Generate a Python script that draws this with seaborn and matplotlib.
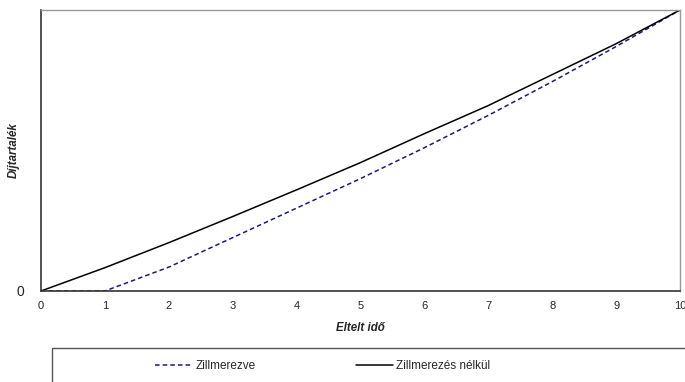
import matplotlib
matplotlib.use("Agg")
import matplotlib.pyplot as plt
from matplotlib.patches import Rectangle
import seaborn as sns
import pandas as pd

# Policy year and reserve (fraction of final reserve)
years = [0, 1, 2, 3, 4, 5, 6, 7, 8, 9, 10]
zillmerezve = [0.0, 0.0, 0.085, 0.19, 0.295, 0.40, 0.51, 0.625, 0.745, 0.87, 1.0]
zillmerezes_nelkul = [0.0, 0.083, 0.172, 0.265, 0.36, 0.457, 0.56, 0.66, 0.77, 0.88, 1.0]
series_names = ["Zillmerezve", "Zillmerezés nélkül"]
x_ticks = list(range(0, 11))
y_ticks = [0]

df = pd.concat([
    pd.DataFrame({"Eltelt idő": years, "Díjtartalék": zillmerezve, "sorozat": series_names[0]}),
    pd.DataFrame({"Eltelt idő": years, "Díjtartalék": zillmerezes_nelkul, "sorozat": series_names[1]}),
])

sns.set_theme(style="white")
plt.rcParams["font.family"] = ["Liberation Sans", "DejaVu Sans"]

fig = plt.figure(figsize=(6.85, 3.82), dpi=100)
ax = fig.add_axes([41 / 685, 1 - 291 / 382, (680 - 41) / 685, (291 - 10) / 382])

sns.lineplot(
    data=df, x="Eltelt idő", y="Díjtartalék", hue="sorozat", style="sorozat",
    palette={series_names[0]: "#1a1a80", series_names[1]: "#000000"},
    dashes={series_names[0]: (3, 2), series_names[1]: ""},
    linewidth=1.1, ax=ax, legend=True,
)
handles, labels = ax.get_legend_handles_labels()
ax.get_legend().remove()

ax.set_xlim(0, 10)
ax.set_ylim(0, 1.0)
ax.set_xticks(x_ticks)
ax.set_xticklabels([str(t) for t in x_ticks], fontsize=8)
ax.set_yticks(y_ticks)
ax.set_yticklabels(["0"], fontsize=10)
ax.tick_params(axis="x", direction="out", length=4, width=0.8, color="#333333", pad=3)
ax.tick_params(axis="y", direction="out", length=4, width=0.8, color="#333333", pad=8)

ax.set_xlabel("Eltelt idő", fontsize=8.3, fontweight="bold", fontstyle="italic")
ax.xaxis.set_label_coords(0.5, -31 / 281)
ax.set_ylabel("Díjtartalék", fontsize=8.3, fontweight="bold", fontstyle="italic")
ax.yaxis.set_label_coords(-21 / 639, 0.5)

for side in ["left", "bottom"]:
    ax.spines[side].set_color("#333333")
    ax.spines[side].set_linewidth(1.2)
for side in ["top", "right"]:
    ax.spines[side].set_color("#999999")
    ax.spines[side].set_linewidth(1.0)

# Legend frame running past the lower right edge
fig.patches.append(Rectangle((52 / 685, -0.1), 1.0, (382 - 348) / 382 + 0.1,
                             transform=fig.transFigure, fill=False,
                             edgecolor="#555555", linewidth=1.0))

handles_map = dict(zip(labels, handles))
fig.legend([handles_map[n] for n in series_names], series_names,
           loc="center left", bbox_to_anchor=(155 / 685, 1 - 366 / 382),
           ncol=2, frameon=False, fontsize=8.5, borderpad=0, borderaxespad=0,
           handlelength=3.2, handletextpad=0.2, columnspacing=8.5)

fig.savefig("out.png", dpi=100)
